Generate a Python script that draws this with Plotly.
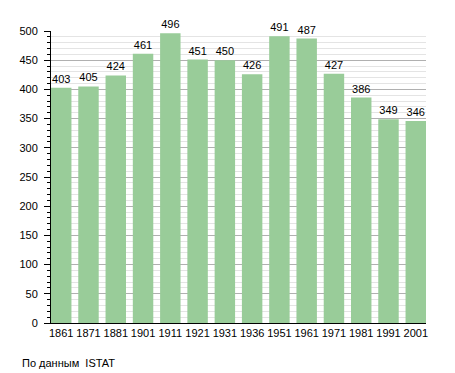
import plotly.graph_objects as go

years = ["1861", "1871", "1881", "1901", "1911", "1921", "1931", "1936",
         "1951", "1961", "1971", "1981", "1991", "2001"]
population = [403, 405, 424, 461, 496, 451, 450, 426, 491, 487, 427, 386, 349, 346]
y_ticks = [0, 50, 100, 150, 200, 250, 300, 350, 400, 450, 500]
source_note = "По данным  ISTAT"

W, H = 455, 373
L, R, T, B = 51, 29, 31, 50
gap = 0.25

fig = go.Figure()
fig.add_trace(go.Bar(
    x=years, y=population,
    marker=dict(color="#99cc99", line=dict(width=0)),
    text=[str(v) for v in population],
    textposition="outside",
    textfont=dict(size=11, color="black"),
    cliponaxis=False,
))

pw = W - L - R
ph = H - T - B
fig.update_layout(
    width=W, height=H,
    margin=dict(l=L, r=R, t=T, b=B, pad=0, autoexpand=False),
    paper_bgcolor="white", plot_bgcolor="white",
    font=dict(family="Liberation Sans, Arial, sans-serif", size=11, color="black"),
    bargap=gap,
    showlegend=False,
    xaxis=dict(
        type="category",
        range=[-(1 - gap) / 2, len(years) - 1 + (1 - gap) / 2],
        showgrid=False, showline=True, linecolor="black", linewidth=1,
        ticks="", tickfont=dict(size=11), ticklabelstandoff=0,
    ),
    yaxis=dict(
        range=[0, 500], tickvals=y_ticks,
        showgrid=True, gridcolor="#b0b0b0", gridwidth=1,
        showline=True, linecolor="black", linewidth=1,
        ticks="outside", ticklen=6, tickcolor="black",
        tickfont=dict(size=11), zeroline=False, ticklabelstandoff=4,
        minor=dict(dtick=10, showgrid=True, gridcolor="#e4e4e4", gridwidth=1,
                   ticks="outside", ticklen=3, tickcolor="black"),
    ),
)
fig.add_annotation(
    text=source_note, xref="paper", yref="paper",
    x=(20 - L) / pw, y=(H - B - 363) / ph,
    xanchor="left", yanchor="middle", showarrow=False,
    font=dict(size=11, color="black"),
)

fig.write_html("out.html", config={"displayModeBar": False},
               post_script="document.body.style.margin='0';")
